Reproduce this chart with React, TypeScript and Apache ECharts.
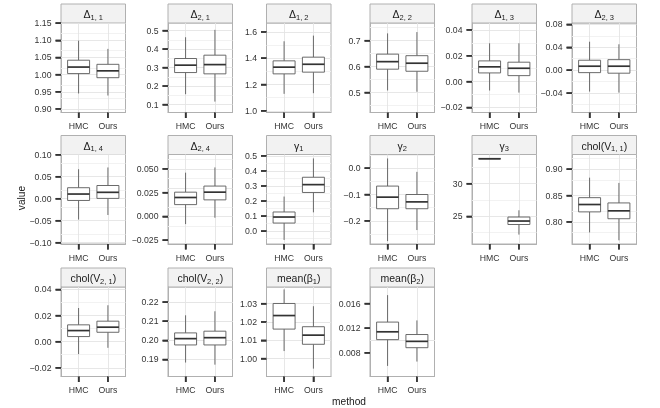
import React, { useEffect, useRef } from 'react';
import * as echarts from 'echarts';

const methods = ['HMC', 'Ours'];

const titleMain = ['Δ', 'Δ', 'Δ', 'Δ', 'Δ', 'Δ', 'Δ', 'Δ', 'γ', 'γ', 'γ', 'chol(V', 'chol(V', 'chol(V', 'mean(β', 'mean(β'];
const titleSub = ['1, 1', '2, 1', '1, 2', '2, 2', '1, 3', '2, 3', '1, 4', '2, 4', '1', '2', '3', '1, 1', '2, 1', '2, 2', '1', '2'];
const titleEnd = ['', '', '', '', '', '', '', '', '', '', '', ')', ')', ')', ')', ')'];

// [min, q1, median, q3, max]
const hmcStats = [
  [0.945, 1.003, 1.022, 1.042, 1.099],
  [0.156, 0.273, 0.313, 0.349, 0.464],
  [1.129, 1.281, 1.332, 1.38, 1.529],
  [0.508, 0.59, 0.619, 0.648, 0.728],
  [-0.0069, 0.0067, 0.0114, 0.016, 0.0296],
  [-0.0372, -0.0042, 0.007, 0.0174, 0.0497],
  [-0.0475, -0.004, 0.0106, 0.025, 0.067],
  [-0.0081, 0.0124, 0.0199, 0.0255, 0.046],
  [-0.058, 0.054, 0.094, 0.1275, 0.23],
  [-0.277, -0.154, -0.11, -0.068, 0.037],
  [33.81, 33.81, 33.81, 33.81, 33.81],
  [0.78, 0.819, 0.833, 0.846, 0.884],
  [-0.0095, 0.0039, 0.0085, 0.0129, 0.0258],
  [0.1884, 0.1976, 0.2009, 0.2039, 0.2131],
  [1.0041, 1.0161, 1.0235, 1.0301, 1.0378],
  [0.00587, 0.01014, 0.01141, 0.01299, 0.01737],
];
const oursStats = [
  [0.939, 0.991, 1.011, 1.03, 1.075],
  [0.116, 0.266, 0.316, 0.367, 0.504],
  [1.134, 1.294, 1.354, 1.408, 1.572],
  [0.503, 0.582, 0.613, 0.642, 0.733],
  [-0.0085, 0.0046, 0.0103, 0.015, 0.0296],
  [-0.039, -0.0052, 0.007, 0.0184, 0.0452],
  [-0.037, 0.0007, 0.0145, 0.03, 0.071],
  [-0.0014, 0.0174, 0.0255, 0.0319, 0.0515],
  [0.125, 0.257, 0.309, 0.358, 0.483],
  [-0.235, -0.154, -0.128, -0.1, -0.014],
  [22.22, 23.76, 24.29, 24.9, 25.93],
  [0.765, 0.806, 0.821, 0.836, 0.874],
  [-0.0047, 0.0072, 0.0111, 0.0157, 0.0279],
  [0.1873, 0.1976, 0.2014, 0.2048, 0.2152],
  [0.9945, 1.0078, 1.0128, 1.0174, 1.0286],
  [0.00658, 0.00883, 0.00986, 0.01097, 0.01326],
];

const yMin = [0.8895, 0.057, 0.987, 0.423, -0.0239, -0.0737, -0.103, -0.029, -0.085, -0.288, 20.78, 0.758, -0.0267, 0.1811, 0.9902, 0.00415];
const yMax = [1.1505, 0.541, 1.668, 0.768, 0.0453, 0.0823, 0.1005, 0.0651, 0.509, 0.052, 34.46, 0.928, 0.0419, 0.2279, 1.0391, 0.01869];

const yBreaks = [
  [0.9, 0.95, 1.0, 1.05, 1.1, 1.15],
  [0.1, 0.2, 0.3, 0.4, 0.5],
  [1.0, 1.2, 1.4, 1.6],
  [0.5, 0.6, 0.7],
  [-0.02, 0.0, 0.02, 0.04],
  [-0.04, 0.0, 0.04, 0.08],
  [-0.1, -0.05, 0.0, 0.05, 0.1],
  [-0.025, 0.0, 0.025, 0.05],
  [0.0, 0.1, 0.2, 0.3, 0.4, 0.5],
  [-0.2, -0.1, 0.0],
  [25, 30],
  [0.8, 0.85, 0.9],
  [-0.02, 0.0, 0.02, 0.04],
  [0.19, 0.2, 0.21, 0.22],
  [1.0, 1.01, 1.02, 1.03],
  [0.008, 0.012, 0.016],
];
const yLabels = [
  ['0.90', '0.95', '1.00', '1.05', '1.10', '1.15'],
  ['0.1', '0.2', '0.3', '0.4', '0.5'],
  ['1.0', '1.2', '1.4', '1.6'],
  ['0.5', '0.6', '0.7'],
  ['−0.02', '0.00', '0.02', '0.04'],
  ['−0.04', '0.00', '0.04', '0.08'],
  ['−0.10', '−0.05', '0.00', '0.05', '0.10'],
  ['−0.025', '0.000', '0.025', '0.050'],
  ['0.0', '0.1', '0.2', '0.3', '0.4', '0.5'],
  ['−0.2', '−0.1', '0.0'],
  ['25', '30'],
  ['0.80', '0.85', '0.90'],
  ['−0.02', '0.00', '0.02', '0.04'],
  ['0.19', '0.20', '0.21', '0.22'],
  ['1.00', '1.01', '1.02', '1.03'],
  ['0.008', '0.012', '0.016'],
];

// layout
const colLeft = [61, 168, 266.5, 370, 472, 572];
const rowTop = [23, 154.5, 287];
const panelW = 64.5;
const panelH = 89.5;
const stripH = 19;
const tickLen = 5.5;

const FONT = 'Liberation Sans, Arial, Helvetica, sans-serif';
const LABEL_COLOR = '#333333';
const TICK_COLOR = '#333333';
const MAJOR_GRID = '#E4E4E4';
const MINOR_GRID = '#F1F1F1';
const BORDER = '#B0B0B0';
const BOX_STROKE = '#5a5a5a';
const MEDIAN_STROKE = '#333333';

function minorBreaks(breaks: number[], lo: number, hi: number): number[] {
  const step = breaks.length > 1 ? breaks[1] - breaks[0] : 1;
  const out: number[] = [];
  for (let k = -1; k < breaks.length; k++) {
    const v = breaks[0] + (k + 0.5) * step;
    if (v > lo && v < hi) out.push(v);
  }
  return out;
}

export default function App() {
  const ref = useRef<HTMLDivElement>(null);

  useEffect(() => {
    if (!ref.current) return;
    const chart = echarts.init(ref.current, undefined, { renderer: 'svg' });
    const n = hmcStats.length;
    const grids: any[] = [];
    const xAxes: any[] = [];
    const yAxes: any[] = [];
    const series: any[] = [];
    const graphics: any[] = [];

    for (let i = 0; i < n; i++) {
      const row = Math.floor(i / 6);
      const col = i % 6;
      const left = colLeft[col];
      const top = rowTop[row];
      grids.push({
        left,
        top,
        width: panelW,
        height: panelH,
        show: true,
        borderColor: BORDER,
      });
      xAxes.push({
        gridIndex: i,
        type: 'value',
        min: 0.4,
        max: 2.6,
        axisLine: { show: true, onZero: false, lineStyle: { color: BORDER, width: 1 } },
        splitLine: { show: false },
        axisTick: { show: true, length: tickLen, customValues: [1, 2], lineStyle: { color: TICK_COLOR, width: 1.5 } },
        axisLabel: {
          customValues: [1, 2],
          formatter: (v: number) => methods[Math.round(v) - 1] ?? '',
          fontSize: 8.7,
          color: LABEL_COLOR,
          fontFamily: FONT,
          margin: 9,
        },
      });
      const br = yBreaks[i];
      const lb = yLabels[i];
      yAxes.push({
        gridIndex: i,
        type: 'value',
        min: yMin[i],
        max: yMax[i],
        axisLine: { show: true, onZero: false, lineStyle: { color: BORDER, width: 1 } },
        splitLine: { show: false },
        axisTick: { show: true, length: tickLen, customValues: br, lineStyle: { color: TICK_COLOR, width: 1.5 } },
        axisLabel: {
          customValues: br,
          formatter: (v: number) => {
            const k = br.findIndex((b) => Math.abs(b - v) < 1e-9);
            return k >= 0 ? lb[k] : '';
          },
          fontSize: 8.7,
          color: LABEL_COLOR,
          fontFamily: FONT,
          margin: 9.5,
        },
      });
      const minors = minorBreaks(br, yMin[i], yMax[i]);
      series.push({
        type: 'custom',
        xAxisIndex: i,
        yAxisIndex: i,
        silent: true,
        z: 3,
        data: [
          [1, ...hmcStats[i]],
          [2, ...oursStats[i]],
        ],
        encode: { x: 0, y: [1, 2, 3, 4, 5] },
        renderItem: (_params: any, api: any) => {
          const xv = api.value(0);
          const pMin = api.coord([xv, api.value(1)]);
          const pQ1 = api.coord([xv, api.value(2)]);
          const pMed = api.coord([xv, api.value(3)]);
          const pQ3 = api.coord([xv, api.value(4)]);
          const pMax = api.coord([xv, api.value(5)]);
          const half = api.size([0.75, 0])[0] / 2;
          const cx = pMed[0];
          return {
            type: 'group',
            children: [
              { type: 'line', shape: { x1: cx, y1: pMax[1], x2: cx, y2: pQ3[1] }, style: { stroke: BOX_STROKE, lineWidth: 0.9 } },
              { type: 'line', shape: { x1: cx, y1: pQ1[1], x2: cx, y2: pMin[1] }, style: { stroke: BOX_STROKE, lineWidth: 0.9 } },
              {
                type: 'rect',
                shape: { x: cx - half, y: pQ3[1], width: 2 * half, height: pQ1[1] - pQ3[1] },
                style: { fill: '#ffffff', stroke: BOX_STROKE, lineWidth: 0.9 },
              },
              {
                type: 'line',
                shape: { x1: cx - half, y1: pMed[1], x2: cx + half, y2: pMed[1] },
                style: { stroke: MEDIAN_STROKE, lineWidth: 1.7 },
              },
            ],
          };
        },
        markLine: {
          silent: true,
          z: 1,
          symbol: ['none', 'none'],
          symbolSize: 0,
          animation: false,
          label: { show: false },
          emphasis: { disabled: true },
          lineStyle: { type: 'solid', color: MAJOR_GRID, width: 0.9 },
          data: [
            ...minors.map((v) => ({ yAxis: v, lineStyle: { type: 'solid', color: MINOR_GRID, width: 0.9 } })),
            { xAxis: 1 },
            { xAxis: 2 },
            ...br.map((v) => ({ yAxis: v })),
          ],
        },
      });

      const rich = {
        m: { fontSize: 10.5, fontFamily: FONT, fill: '#1a1a1a', color: '#1a1a1a', lineHeight: 14 },
        s: { fontSize: 7.5, fontFamily: FONT, fill: '#1a1a1a', color: '#1a1a1a', lineHeight: 9, verticalAlign: 'bottom' },
      };
      let txt = `{m|${titleMain[i]}}{s|${titleSub[i]}}`;
      if (titleEnd[i]) txt += `{m|${titleEnd[i]}}`;
      graphics.push({
        type: 'rect',
        silent: true,
        shape: { x: left, y: top - stripH, width: panelW, height: stripH },
        style: { fill: '#F2F2F2', stroke: BORDER, lineWidth: 1 },
      });
      graphics.push({
        type: 'text',
        silent: true,
        x: left + panelW / 2,
        y: top - stripH / 2 + 0.5,
        style: {
          text: txt,
          rich,
          align: 'center',
          verticalAlign: 'middle',
          textAlign: 'center',
          textVerticalAlign: 'middle',
        },
      });
    }

    graphics.push({
      type: 'text',
      silent: true,
      x: 21,
      y: 198,
      rotation: Math.PI / 2,
      style: {
        text: 'value',
        fontSize: 10.2,
        fontFamily: FONT,
        fill: '#1a1a1a',
        align: 'center',
        verticalAlign: 'middle',
        textAlign: 'center',
        textVerticalAlign: 'middle',
      },
    });
    graphics.push({
      type: 'text',
      silent: true,
      x: 349,
      y: 401,
      style: {
        text: 'method',
        fontSize: 10.2,
        fontFamily: FONT,
        fill: '#1a1a1a',
        align: 'center',
        verticalAlign: 'middle',
        textAlign: 'center',
        textVerticalAlign: 'middle',
      },
    });

    chart.setOption({
      animation: false,
      grid: grids,
      xAxis: xAxes,
      yAxis: yAxes,
      series,
      graphic: { elements: graphics },
    });

    // extra tick marks, positioned through the axes' own scales
    try {
      const ticks: any[] = [];
      for (let i = 0; i < n; i++) {
        const finder = { xAxisIndex: i, yAxisIndex: i };
        yBreaks[i].forEach((b) => {
          const p = chart.convertToPixel(finder as any, [0.4, b]) as any;
          if (!p) return;
          ticks.push({
            type: 'line',
            z: 100,
            shape: { x1: p[0] - tickLen, y1: p[1], x2: p[0], y2: p[1] },
            style: { stroke: TICK_COLOR, lineWidth: 1.5 },
          });
        });
        methods.forEach((_m, k) => {
          const p = chart.convertToPixel(finder as any, [k + 1, yMin[i]]) as any;
          if (!p) return;
          ticks.push({
            type: 'line',
            z: 100,
            shape: { x1: p[0], y1: p[1], x2: p[0], y2: p[1] + tickLen },
            style: { stroke: TICK_COLOR, lineWidth: 1.5 },
          });
        });
      }
      chart.setOption({ graphic: { elements: [...graphics, ...ticks] } });
    } catch (e) {
      // keep the chart as drawn
    }

    return () => {
      chart.dispose();
    };
  }, []);

  return <div ref={ref} style={{ position: 'fixed', left: 0, top: 0, width: 660, height: 408 }} />;
}
